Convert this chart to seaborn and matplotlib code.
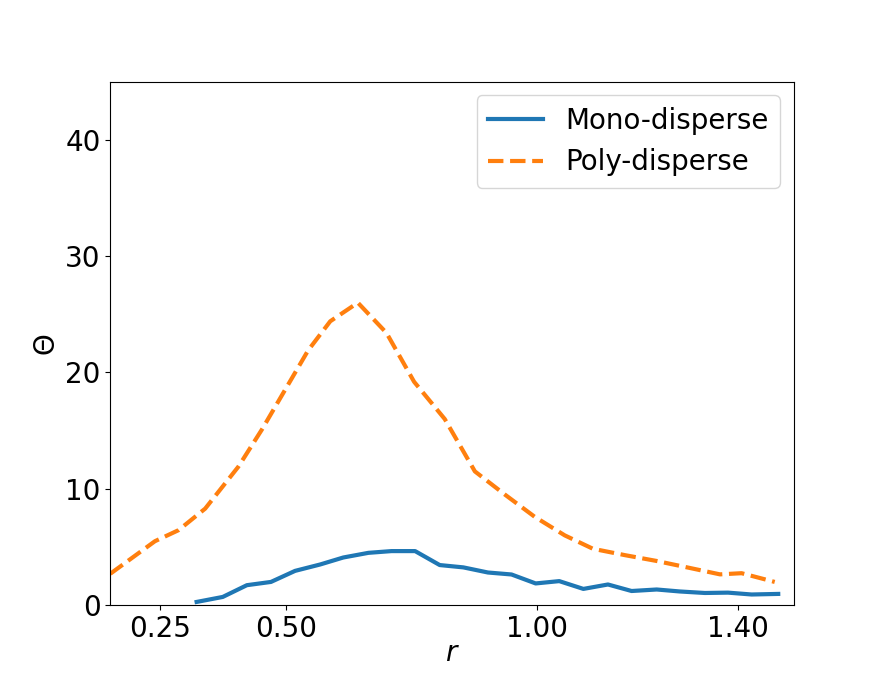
import matplotlib
matplotlib.use("Agg")
from matplotlib import pyplot as plt
import seaborn as sns
import pandas as pd

# mono-disperse series
mono_r = [0.322, 0.374, 0.422, 0.470, 0.518, 0.568, 0.614, 0.664, 0.710, 0.757,
          0.806, 0.853, 0.902, 0.949, 0.997, 1.044, 1.092, 1.141, 1.188, 1.238,
          1.284, 1.334, 1.380, 1.427, 1.480]
mono_theta = [0.28, 0.71, 1.72, 2.00, 2.95, 3.50, 4.10, 4.50, 4.65, 4.65,
              3.45, 3.25, 2.81, 2.64, 1.87, 2.07, 1.40, 1.78, 1.22, 1.35,
              1.18, 1.05, 1.08, 0.92, 0.97]

# poly-disperse series
poly_r = [0.150, 0.239, 0.286, 0.339, 0.405, 0.452, 0.498, 0.544, 0.588, 0.643,
          0.700, 0.755, 0.816, 0.876, 0.936, 0.995, 1.055, 1.111, 1.175, 1.238,
          1.304, 1.364, 1.407, 1.473]
poly_theta = [2.70, 5.50, 6.45, 8.30, 11.9, 15.1, 18.5, 21.9, 24.4, 26.0,
              23.4, 19.2, 16.0, 11.5, 9.5, 7.6, 6.0, 4.85, 4.3, 3.8,
              3.2, 2.65, 2.75, 2.0]

xtick_vals = [0.25, 0.50, 1.00, 1.40]
xtick_labels = ["0.25", "0.50", "1.00", "1.40"]

mono = pd.DataFrame({"r": mono_r, "theta": mono_theta})
poly = pd.DataFrame({"r": poly_r, "theta": poly_theta})

fig, ax = plt.subplots(figsize=(8.82, 6.8), dpi=100)

sns.lineplot(data=mono, x="r", y="theta", ax=ax, color="#1f77b4",
             linewidth=3, label="Mono-disperse")
sns.lineplot(data=poly, x="r", y="theta", ax=ax, color="#ff7f0e",
             linewidth=3, linestyle="--", label="Poly-disperse")

ax.set_xlim(0.15, 1.511)
ax.set_ylim(0, 45)
ax.set_xticks(xtick_vals)
ax.set_xticklabels(xtick_labels)
ax.set_yticks([0, 10, 20, 30, 40])
ax.tick_params(labelsize=20)
ax.set_xlabel("$r$", fontsize=20, labelpad=-3)
ax.set_ylabel("Θ", fontsize=20)
ax.legend(loc="upper right", fontsize=20)

plt.savefig("out.png", dpi=100)
